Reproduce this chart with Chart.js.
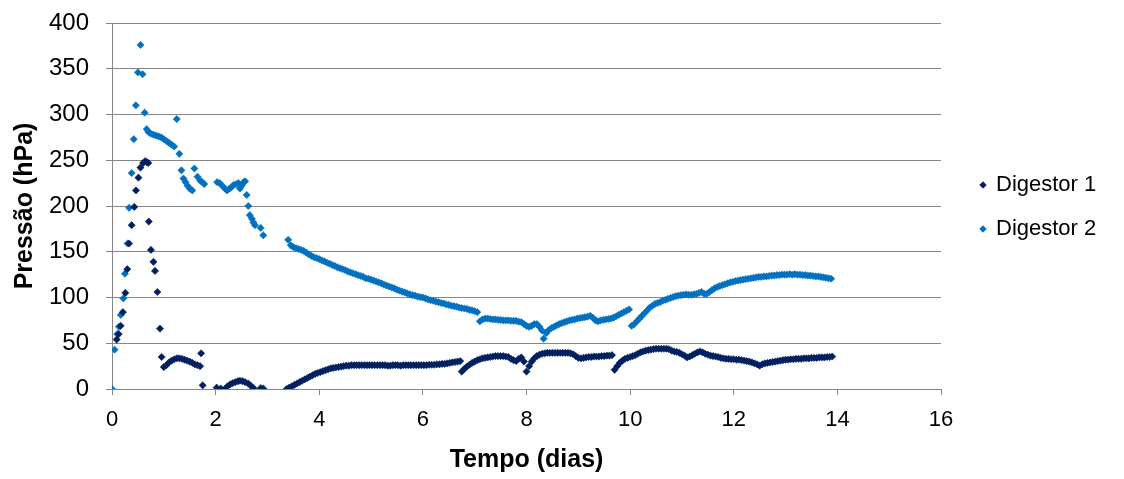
<!DOCTYPE html>
<html>
<head>
<meta charset="utf-8">
<script src="https://cdn.jsdelivr.net/npm/chart.js@4/dist/chart.umd.min.js"></script>
<style>
  html, body { margin: 0; padding: 0; background: #fff; }
  #wrap { width: 1124px; height: 479px; }
</style>
</head>
<body>
<div id="wrap"><canvas id="chart" width="1124" height="479"></canvas></div>
<script>
// ---- Series names and colours ----
const seriesNames = ['Digestor 1', 'Digestor 2'];
const seriesColors = ['#002060', '#0070C0'];

// ---- Axis ticks ----
const xTicks = [0, 2, 4, 6, 8, 10, 12, 14, 16];
const yTicks = [0, 50, 100, 150, 200, 250, 300, 350, 400];

// Logging interval of the continuous runs (days)
const STEP = 0.05;

// ---- Digestor 1: individual readings (days, hPa) ----
const d1Days = [0.09, 0.13, 0.167, 0.21, 0.257, 0.295, 0.33, 0.38, 0.43, 0.463,
  0.51, 0.55, 0.60, 0.64, 0.67, 0.70, 0.71, 0.752, 0.80, 0.83,
  0.875, 0.926, 0.958, 1.00, 1.05, 1.10, 1.15, 1.20, 1.25, 1.30,
  1.35, 1.40, 1.45, 1.50, 1.55, 1.60, 1.65, 1.70, 1.72, 1.75,
  2.02, 2.10, 2.18, 2.23, 2.28, 2.33, 2.38, 2.43, 2.47, 2.52,
  2.57, 2.63, 2.68, 2.73, 2.87, 2.92];
const d1Pressure = [54, 60, 69, 84, 105, 131, 159, 179, 199, 217,
  231, 242, 247, 249, 248, 247, 183, 152, 139, 129,
  106, 66, 35, 24, 26, 29, 31, 32.5, 33.5, 33.5,
  33, 32, 31, 30, 28.5, 27, 26, 25, 39, 4,
  1.5, 0.5, 0, 3, 5, 6.5, 7.5, 8.5, 9, 8.5,
  7.5, 6, 3.5, 1, 1, 0.5];

// ---- Digestor 1: continuous runs (start day, readings every STEP) ----
const d1RunStarts = [3.37, 6.75, 8.00, 9.70];
const d1RunA = [0, 1.5, 3, 4.5, 6, 7.5, 9, 10.5, 12, 13.5,
  15, 16.5, 17.5, 18.5, 19.5, 20.5, 21.5, 22.5, 23, 23.5,
  24, 24.5, 25, 25.5, 25.5, 26, 26, 26, 26, 26,
  26, 26, 26, 26, 26, 26, 26, 26, 26, 25.5,
  25.5, 26, 26, 26, 25.5, 26, 26, 26, 26, 26,
  26, 26, 26, 26, 26, 26.5, 26.5, 26.5, 27, 27,
  27.5, 27.5, 28, 28.5, 29, 29.5, 30, 30.5];
const d1RunB = [19, 22, 24.5, 26.5, 28.5, 30, 31.5, 32.5, 33.5, 34,
  34.5, 35, 35.5, 36, 36, 36, 36, 35.5, 35, 33,
  31.5, 30.5, 33, 34.5, 30];
const d1RunC = [19, 25, 30, 33.5, 36, 37.5, 38.5, 39, 39.5, 39.5,
  39.5, 39.5, 39.5, 39.5, 39.5, 39.5, 39.5, 39, 38, 36,
  34, 33.5, 34, 34.5, 35, 35, 35.5, 35.5, 35.5, 36,
  36, 36.5, 36.5, 37];
const d1RunD = [21, 25, 28.5, 31, 33, 34, 35, 36, 37, 38.5,
  40, 41, 42, 42.5, 43, 43.5, 44, 44, 44, 44,
  44, 43.5, 42, 41, 40.5, 39.5, 38, 36.5, 34.5, 35.5,
  37, 38.5, 40, 41, 40, 38.5, 37.5, 36.5, 36, 35.5,
  35, 34, 33.5, 33, 33, 32.5, 32.5, 32, 32, 31.5,
  31, 30.5, 30, 29, 28, 27, 25.5, 27, 28, 28.5,
  29, 29.5, 30, 30.5, 31, 31.5, 32, 32, 32.5, 32.5,
  33, 33, 33, 33.5, 33.5, 33.5, 34, 34, 34, 34.5,
  34.5, 34.5, 35, 35, 35.5];

// ---- Digestor 2: individual readings (days, hPa) ----
const d2Days = [0, 0.05, 0.10, 0.135, 0.17, 0.22, 0.25, 0.30, 0.33, 0.38,
  0.42, 0.46, 0.50, 0.55, 0.59, 0.63, 0.67, 0.70, 0.75, 0.80,
  0.85, 0.90, 0.95, 1.00, 1.05, 1.10, 1.15, 1.20, 1.25, 1.30,
  1.34, 1.38, 1.42, 1.46, 1.50, 1.55, 1.59, 1.65, 1.70, 1.74,
  1.78, 2.03, 2.08, 2.13, 2.18, 2.22, 2.27, 2.31, 2.35, 2.40,
  2.44, 2.47, 2.50, 2.54, 2.57, 2.60, 2.63, 2.66, 2.70, 2.73,
  2.76, 2.87, 2.92];
const d2Pressure = [0, 43, 60, 68, 81, 99, 126, 159, 198, 236,
  273, 310, 346, 376, 344, 302, 284, 281, 279, 278,
  277, 276, 275, 273, 271, 269, 267, 265, 295, 257,
  239, 230, 226, 222, 219, 217, 241, 232, 228, 226,
  224, 226, 225, 222, 219, 217, 219, 221, 223, 224,
  225, 219, 222, 226, 227, 212, 200, 190, 186, 182,
  179, 176, 168];

// ---- Digestor 2: continuous runs (start day, readings every STEP) ----
const d2RunStarts = [3.40, 7.10, 8.33, 10.03];
const d2RunA = [163, 157, 155, 154, 153, 152, 151, 149, 147, 145.5,
  144, 143, 142, 140.5, 139.5, 138, 137, 135.5, 134.5, 133,
  132, 131, 130, 128.5, 127.5, 126.5, 125.5, 124.5, 123.5, 122.5,
  121, 120.5, 119.5, 118.5, 117.5, 116.5, 115.5, 114, 113, 112,
  111, 110, 108.5, 107.5, 106.5, 105.5, 104.5, 103.5, 102.5, 102,
  101, 100.5, 100, 99, 98, 97, 96.5, 95.5, 95, 94,
  93.5, 92.5, 92, 91, 90.5, 90, 89, 88.5, 88, 87.5,
  86.5, 86, 85, 84];
const d2RunB = [74, 76, 77, 77, 76.5, 76, 76, 75.5, 75.5, 75,
  75, 75, 74.5, 74.5, 74.5, 73.5, 73, 71, 69, 68,
  69, 71, 71, 68, 64];
const d2RunC = [55, 61, 64.5, 66.5, 68, 69.5, 71, 72, 73, 74,
  75, 75.5, 76, 77, 77.5, 78, 78.5, 79, 80, 78,
  75, 74, 75, 75.5, 76, 76.5, 77, 78, 79.5, 81,
  82.5, 84, 85.5, 87];
const d2RunD = [69, 71, 74, 77, 80, 83, 86, 89, 91, 93,
  94, 95, 96.5, 97.5, 98.5, 99.5, 100.5, 101.5, 102, 102.5,
  103, 103.5, 103, 103, 103.5, 104, 105, 106, 104, 104,
  106, 108, 110, 111.5, 112.5, 113.5, 114.5, 115.5, 116.5, 117,
  118, 118.5, 119, 119.5, 120, 120.5, 121, 121.5, 122, 122.5,
  122.5, 123, 123, 123.5, 124, 124, 124.5, 124.5, 125, 125,
  125, 125.5, 125, 125.5, 125, 125, 124.5, 124.5, 124, 124,
  123.5, 123, 123, 122.5, 122, 121.5, 121, 120.5];

// ---- Build point lists ----
function pairPoints(days, values) {
  return days.map((d, i) => ({ x: d, y: values[i] }));
}
function runPoints(start, values) {
  return values.map((v, i) => ({ x: +(start + i * STEP).toFixed(3), y: v }));
}
const d1Points = pairPoints(d1Days, d1Pressure)
  .concat(runPoints(d1RunStarts[0], d1RunA))
  .concat(runPoints(d1RunStarts[1], d1RunB))
  .concat(runPoints(d1RunStarts[2], d1RunC))
  .concat(runPoints(d1RunStarts[3], d1RunD));
const d2Points = pairPoints(d2Days, d2Pressure)
  .concat(runPoints(d2RunStarts[0], d2RunA))
  .concat(runPoints(d2RunStarts[1], d2RunB))
  .concat(runPoints(d2RunStarts[2], d2RunC))
  .concat(runPoints(d2RunStarts[3], d2RunD));

const FONT = "'Liberation Sans', Arial, sans-serif";
const AXIS_GRAY = '#868686';
const MARKER = 3.6;

// Legend drawn at the right of the plot, one diamond and label per series
const sideLegend = {
  id: 'sideLegend',
  afterDraw(chart) {
    const ctx = chart.ctx;
    const rows = [185, 229];
    ctx.save();
    chart.data.datasets.forEach((ds, i) => {
      ctx.fillStyle = ds.backgroundColor;
      ctx.strokeStyle = ds.borderColor;
      ctx.lineWidth = 1;
      Chart.helpers.drawPoint(ctx, { pointStyle: 'rectRot', radius: 3.2, borderWidth: 1 }, 983, rows[i]);
      ctx.fillStyle = '#000';
      ctx.font = '22px ' + FONT;
      ctx.textAlign = 'left';
      ctx.textBaseline = 'middle';
      ctx.fillText(ds.label, 996, rows[i]);
    });
    ctx.restore();
  }
};

// Keep the plot box fixed: axis labels may overhang into the margins
function fixX(s) { s.height = 90; s.paddingLeft = 0; s.paddingRight = 0; }
function fixY(s) { s.width = 112; s.paddingTop = 0; s.paddingBottom = 0; }

new Chart(document.getElementById('chart'), {
  type: 'scatter',
  data: {
    datasets: [
      {
        label: seriesNames[0],
        data: d1Points,
        backgroundColor: seriesColors[0],
        borderColor: seriesColors[0],
        pointStyle: 'rectRot',
        pointRadius: MARKER,
        borderWidth: 0.6
      },
      {
        label: seriesNames[1],
        data: d2Points,
        backgroundColor: seriesColors[1],
        borderColor: seriesColors[1],
        pointStyle: 'rectRot',
        pointRadius: MARKER,
        borderWidth: 0.6
      }
    ]
  },
  options: {
    responsive: false,
    animation: false,
    events: [],
    layout: { padding: { left: 0, right: 183, top: 23, bottom: 0 } },
    plugins: {
      legend: { display: false },
      tooltip: { enabled: false }
    },
    scales: {
      x: {
        type: 'linear',
        min: xTicks[0],
        max: xTicks[xTicks.length - 1],
        afterBuildTicks: s => { s.ticks = xTicks.map(v => ({ value: v })); },
        afterFit: fixX,
        ticks: { color: '#000', font: { family: FONT, size: 22 }, padding: 12 },
        grid: { drawOnChartArea: false, drawTicks: true, tickLength: 6, color: AXIS_GRAY, lineWidth: 1 },
        border: { color: AXIS_GRAY, width: 1 },
        title: {
          display: true,
          text: 'Tempo (dias)',
          color: '#000',
          font: { family: FONT, size: 25, weight: 'bold' },
          padding: { top: 0, bottom: 4 }
        }
      },
      y: {
        min: yTicks[0],
        max: yTicks[yTicks.length - 1],
        afterBuildTicks: s => { s.ticks = yTicks.map(v => ({ value: v })); },
        afterFit: fixY,
        ticks: { color: '#000', font: { family: FONT, size: 24 }, padding: 17 },
        grid: { drawTicks: true, tickLength: 6, color: AXIS_GRAY, lineWidth: 1 },
        border: { color: AXIS_GRAY, width: 1 },
        title: {
          display: true,
          text: 'Pressão (hPa)',
          color: '#000',
          font: { family: FONT, size: 25, weight: 'bold' },
          padding: { top: 10, bottom: 0 }
        }
      }
    }
  },
  plugins: [sideLegend]
});
</script>
</body>
</html>
